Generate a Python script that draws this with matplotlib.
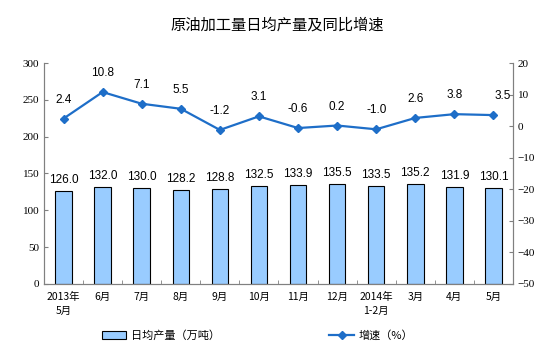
import numpy as np
import matplotlib
matplotlib.use('Agg')
from matplotlib import pyplot as plt
from matplotlib.lines import Line2D
from matplotlib.patches import Patch

plt.rcParams['font.family'] = ['Noto Sans CJK SC', 'DejaVu Sans']

categories = ['2013年\n5月', '6月', '7月', '8月', '9月', '10月', '11月', '12月',
              '2014年\n1-2月', '3月', '4月', '5月']
output = [126.0, 132.0, 130.0, 128.2, 128.8, 132.5, 133.9, 135.5, 133.5, 135.2, 131.9, 130.1]
growth = [2.4, 10.8, 7.1, 5.5, -1.2, 3.1, -0.6, 0.2, -1.0, 2.6, 3.8, 3.5]

if __name__ == '__main__':
    fig = plt.figure(figsize=(5.54, 3.53), dpi=100)
    ax = fig.add_axes([0.0794, 0.1955, 0.8466, 0.626])
    x = np.arange(len(categories))

    ax.bar(x, output, width=0.42, color='#99CCFF', edgecolor='black', linewidth=0.8, zorder=2)
    for xi, v in zip(x, output):
        ax.annotate('%.1f' % v, (xi, v), xytext=(0, 11), textcoords='offset pixels',
                    ha='center', va='center', fontsize=8.5, family='Liberation Sans')
    ax.set_ylim(0, 300)
    ax.set_xlim(-0.5, len(categories) - 0.5)
    ax.set_yticks(np.arange(0, 301, 50))
    ax.set_xticks(x)
    ax.set_xticklabels(categories, fontsize=7.5, linespacing=1.5)
    ax.set_xticks(np.arange(-0.5, len(categories), 1), minor=True)
    ax.tick_params(axis='x', which='major', length=0, pad=6)
    ax.tick_params(axis='x', which='minor', length=3, color='#808080', direction='in')
    ax.tick_params(axis='y', labelsize=8, length=3, color='#808080', direction='in')
    for lab in ax.get_yticklabels():
        lab.set_family('Liberation Serif')

    ax2 = ax.twinx()
    ax2.plot(x, growth, color='#1E6EC8', marker='D', markersize=4, linewidth=1.6, zorder=3)
    for i, (xi, v) in enumerate(zip(x, growth)):
        dx = 9 if i == len(growth) - 1 else 0
        ax2.annotate('%.1f' % v, (xi, v), xytext=(dx, 19), textcoords='offset pixels',
                     ha='center', va='center', fontsize=8.5, family='Liberation Sans')
    ax2.set_ylim(-50, 20)
    ax2.set_yticks(np.arange(-50, 21, 10))
    ax2.tick_params(axis='y', labelsize=8, length=3, color='#808080', direction='in')
    for lab in ax2.get_yticklabels():
        lab.set_family('Liberation Serif')

    for a in (ax, ax2):
        a.spines['top'].set_visible(False)
        for side in ('left', 'right', 'bottom'):
            a.spines[side].set_color('#808080')

    fig.text(0.5, 0.93, '原油加工量日均产量及同比增速', ha='center', va='center', fontsize=11)

    handles = [Patch(facecolor='#99CCFF', edgecolor='black', linewidth=0.8),
               Line2D([0], [0], color='#1E6EC8', marker='D', markersize=4, linewidth=1.6)]
    fig.legend(handles[:1], ['日均产量（万吨）'], loc='center', bbox_to_anchor=(0.29, 0.05),
               frameon=False, fontsize=8, handlelength=2.2, handletextpad=0.4)
    fig.legend(handles[1:], ['增速（%）'], loc='center', bbox_to_anchor=(0.67, 0.05),
               frameon=False, fontsize=8, handlelength=2.2, handletextpad=0.4)

    plt.savefig('out.png', dpi=100)
